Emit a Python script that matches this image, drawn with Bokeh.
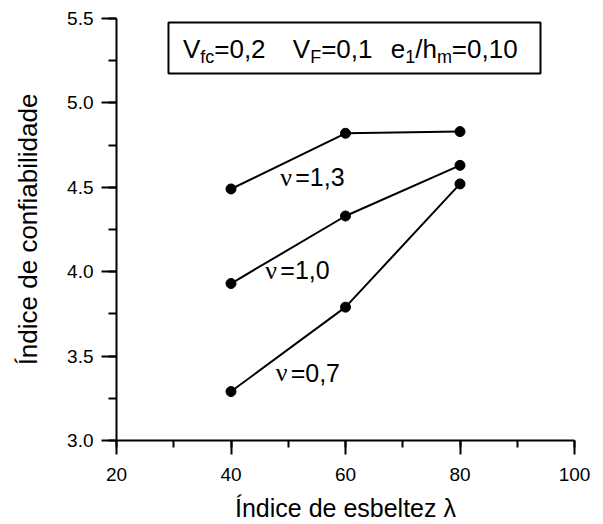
from bokeh.plotting import figure
from bokeh.models import (Range1d, SingleIntervalTicker, NumeralTickFormatter,
                          BoxAnnotation, Label, ColumnDataSource)
from bokeh.embed import file_html
from bokeh.resources import INLINE

# ---- data ----
slenderness = [40, 60, 80]
beta_nu13 = [4.49, 4.82, 4.83]
beta_nu10 = [3.93, 4.33, 4.63]
beta_nu07 = [3.29, 3.79, 4.52]
series_values = ["=1,3", "=1,0", "=0,7"]
series_label_x = [48.6, 46.0, 47.8]
series_label_y = [4.56, 4.01, 3.40]
x_label = "Índice de esbeltez λ"
y_label = "Índice de confiabilidade"

X0, X1 = 20, 100
Y0, Y1 = 3.0, 5.5
FRAME_W, FRAME_H = 458, 422
px_y = (Y1 - Y0) / FRAME_H

FONT = "Liberation Sans"
SERIF = "Liberation Serif"
BIG = 25
LEG = 26
SUB = 18

p = figure(width=600, height=524, output_backend="svg", toolbar_location=None,
           x_range=Range1d(X0, X1), y_range=Range1d(Y0, Y1),
           min_border_left=116, min_border_right=26, min_border_top=18,
           min_border_bottom=84)
p.outline_line_color = None
p.xgrid.visible = False
p.ygrid.visible = False
p.background_fill_color = "white"
p.border_fill_color = "white"

for ax in (p.xaxis[0], p.yaxis[0]):
    ax.axis_line_width = 2
    ax.major_tick_line_width = 2
    ax.minor_tick_line_width = 2
    ax.major_tick_in = 0
    ax.minor_tick_in = 0
    ax.major_label_text_font = FONT
    ax.major_label_text_font_size = "19px"
    ax.major_label_text_color = "black"
    ax.axis_label_text_font = FONT
    ax.axis_label_text_font_size = f"{BIG}px"
    ax.axis_label_text_font_style = "normal"
    ax.axis_label_text_color = "black"
    ax.axis_line_color = "black"
    ax.major_tick_line_color = "black"
    ax.minor_tick_line_color = "black"

p.xaxis[0].ticker = SingleIntervalTicker(interval=20, num_minor_ticks=2)
p.yaxis[0].ticker = SingleIntervalTicker(interval=0.5, num_minor_ticks=2)
p.yaxis[0].formatter = NumeralTickFormatter(format="0.0")
p.xaxis[0].major_tick_out = 14
p.xaxis[0].minor_tick_out = 7
p.yaxis[0].major_tick_out = 15
p.yaxis[0].minor_tick_out = 8
p.xaxis[0].major_label_standoff = 13
p.yaxis[0].major_label_standoff = 8
p.xaxis[0].axis_label = x_label
p.xaxis[0].axis_label_standoff = 10
p.yaxis[0].axis_label = y_label
p.yaxis[0].axis_label_standoff = 21
p.yaxis[0].axis_label_text_font_size = "26px"

for ys in (beta_nu13, beta_nu10, beta_nu07):
    src = ColumnDataSource(dict(x=slenderness, y=ys))
    p.line("x", "y", source=src, line_color="black", line_width=2)
    p.scatter("x", "y", source=src, size=10, marker="circle",
              fill_color="black", line_color="black")

# series labels: nu (serif) + value text
for lx, ly, txt in zip(series_label_x, series_label_y, series_values):
    p.add_layout(Label(x=lx, y=ly, text="ν", text_font=SERIF,
                       text_font_size=f"{BIG+1}px", text_baseline="alphabetic",
                       text_color="black"))
    p.add_layout(Label(x=lx, y=ly, x_offset=15, text=txt, text_font=FONT,
                       text_font_size=f"{BIG}px", text_baseline="alphabetic",
                       text_color="black"))

# parameter box
p.add_layout(BoxAnnotation(left=29.08, right=94.06, bottom=5.174, top=5.476,
                           fill_color="white", fill_alpha=1.0,
                           line_color="black", line_alpha=1.0, line_width=2,
                           level="overlay"))

W = {"V": 0.667, "f": 0.278, "c": 0.5, "=": 0.584, "0": 0.556, "1": 0.556,
     "2": 0.556, ",": 0.278, "F": 0.611, "e": 0.556, "/": 0.278, "h": 0.556,
     "m": 0.833}

def wid(s, size):
    return sum(W[ch] for ch in s) * size

groups = [
    (31.6, [("V", False), ("fc", True), ("=0,2", False)]),
    (50.8, [("V", False), ("F", True), ("=0,1", False)]),
    (67.9, [("e", False), ("1", True), ("/h", False), ("m", True), ("=0,10", False)]),
]
base_y = Y1 - (57 - 9 - 18) * px_y
sub_y = base_y - 8 * px_y
for gx, pieces in groups:
    off = 0.0
    for txt, is_sub in pieces:
        size = SUB if is_sub else LEG
        p.add_layout(Label(x=gx, y=sub_y if is_sub else base_y, x_offset=off,
                           text=txt, text_font=FONT, text_font_size=f"{size}px",
                           text_baseline="alphabetic", text_color="black",
                           level="overlay"))
        off += wid(txt, size)

open("out.html", "w").write(file_html(p, INLINE))
